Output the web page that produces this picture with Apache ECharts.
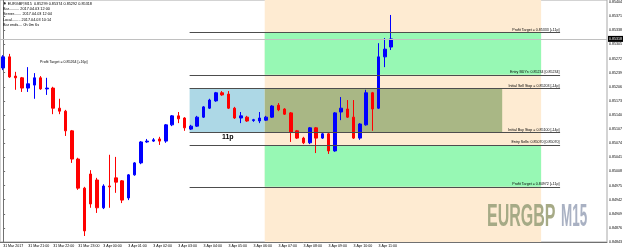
<!DOCTYPE html>
<html>
<head>
<meta charset="utf-8">
<script src="https://cdn.jsdelivr.net/npm/echarts@6/dist/echarts.min.js"></script>
<style>
  html, body { margin: 0; padding: 0; background: #fff; }
  #chart { width: 625px; height: 251px; }
</style>
</head>
<body>
<div id="chart"></div>
<script>
// EURGBP M15, 31 Mar 20:00 -> 3 Apr 11:30
const opens = [
  0.85250, 0.85276, 0.85231, 0.85227, 0.85203, 0.85210, 0.85227, 0.85201, 0.85203, 0.85156,
  0.85149, 0.85103, 0.85037, 0.84969, 0.85002, 0.84988, 0.84923, 0.84974, 0.84993, 0.84986,
  0.84946, 0.85000, 0.85028, 0.85077, 0.85079, 0.85084, 0.85079, 0.85117, 0.85138, 0.85133,
  0.85107, 0.85114, 0.85135, 0.85156, 0.85173, 0.85192, 0.85189, 0.85156, 0.85133, 0.85135,
  0.85127, 0.85126, 0.85128, 0.85135, 0.85163, 0.85154, 0.85145, 0.85103, 0.85086, 0.85075,
  0.85110, 0.85086, 0.85096, 0.85056, 0.85147, 0.85154, 0.85135, 0.85086, 0.85117, 0.85192,
  0.85156, 0.85276, 0.85299
]
const closes = [
  0.85276, 0.85229, 0.85227, 0.85203, 0.85213, 0.85227, 0.85201, 0.85203, 0.85156, 0.85149,
  0.85103, 0.85037, 0.84969, 0.84869, 0.84932, 0.84923, 0.84974, 0.84972, 0.84983, 0.84941,
  0.85000, 0.85028, 0.85077, 0.85079, 0.85082, 0.85079, 0.85117, 0.85138, 0.85131, 0.85110,
  0.85114, 0.85135, 0.85159, 0.85175, 0.85192, 0.85187, 0.85156, 0.85133, 0.85138, 0.85126,
  0.85129, 0.85133, 0.85135, 0.85161, 0.85152, 0.85142, 0.85100, 0.85086, 0.85075, 0.85110,
  0.85086, 0.85096, 0.85056, 0.85145, 0.85156, 0.85135, 0.85086, 0.85119, 0.85192, 0.85154,
  0.85276, 0.85294, 0.85318
]
const lows = [
  0.85245, 0.85227, 0.85199, 0.85194, 0.85194, 0.85178, 0.85199, 0.85187, 0.85142, 0.85142,
  0.85091, 0.85028, 0.84965, 0.84857, 0.84923, 0.84911, 0.84920, 0.84923, 0.84958, 0.84934,
  0.84941, 0.84998, 0.85025, 0.85075, 0.85077, 0.85070, 0.85075, 0.85114, 0.85121, 0.85103,
  0.85105, 0.85112, 0.85133, 0.85154, 0.85171, 0.85185, 0.85154, 0.85131, 0.85121, 0.85124,
  0.85124, 0.85121, 0.85126, 0.85133, 0.85149, 0.85140, 0.85077, 0.85084, 0.85072, 0.85072,
  0.85051, 0.85084, 0.85049, 0.85054, 0.85128, 0.85133, 0.85084, 0.85082, 0.85115, 0.85103,
  0.85154, 0.85252, 0.85292
]
const highs = [
  0.85280, 0.85283, 0.85241, 0.85229, 0.85252, 0.85238, 0.85231, 0.85227, 0.85206, 0.85178,
  0.85152, 0.85105, 0.85040, 0.84972, 0.85011, 0.84993, 0.84978, 0.85047, 0.85042, 0.84988,
  0.85002, 0.85030, 0.85079, 0.85084, 0.85086, 0.85089, 0.85119, 0.85140, 0.85147, 0.85135,
  0.85117, 0.85138, 0.85161, 0.85178, 0.85194, 0.85196, 0.85196, 0.85159, 0.85147, 0.85138,
  0.85131, 0.85147, 0.85138, 0.85163, 0.85168, 0.85156, 0.85147, 0.85105, 0.85089, 0.85112,
  0.85112, 0.85098, 0.85098, 0.85147, 0.85182, 0.85175, 0.85175, 0.85121, 0.85199, 0.85194,
  0.85308, 0.85320, 0.85374
]

// trade levels (price)
const levelPrices = [0.85333, 0.85234, 0.85203, 0.85100, 0.85070, 0.84972]
const levelNames = ['Profit Target = ', 'Entry BUYs: ', 'Initial Sell Stop = ', 'Initial Buy Stop = ', 'Entry Sells: ', 'Profit Target = ']
const levelNotes = ['[+11p]', '', '[-14p]', '[-14p]', '', '[+11p]']
const oldTarget = 0.85264
const oldTargetNote = '[+16p]'
const rangeNote = '11p'

// bar positions of the boxes (in bar slots)
const boxStart = 29.8
const zoneStart = 41.8
const oliveEnd = 79.75
const zoneEnd = 85.97
const lineEnd = 89.0

const slotCount = 97
const yMin = 0.84843
const yMax = 0.85409
const yStep = 0.00033

// time labels: Friday 31 Mar from 20:00, Monday 3 Apr from 00:00
const times = []
for (let i = 0; i < slotCount; i++) {
  if (i >= opens.length) { times.push(''); continue }
  let day, h, m = (i % 4) * 15
  if (i < 16) { day = '31 Mar'; h = 20 + Math.floor(i / 4) } else { day = '3 Apr'; h = Math.floor((i - 16) / 4) }
  times.push(day + ' ' + String(h).padStart(2, '0') + ':' + String(m).padStart(2, '0'))
}
times[0] = '31 Mar 2017'

const candles = opens.map((o, i) => [o, closes[i], lows[i], highs[i]])
const showHour = (i) => i % 4 === 0 && i < opens.length
const last = opens.length - 1

const zoneData = [
  [{ coord: [zoneStart, yMin], itemStyle: { color: '#feebd2' } }, { coord: [zoneEnd, yMax] }],
  [{ coord: [zoneStart, levelPrices[1]], itemStyle: { color: '#97f8b4' } }, { coord: [zoneEnd, levelPrices[0]] }],
  [{ coord: [zoneStart, levelPrices[5]], itemStyle: { color: '#97f8b4' } }, { coord: [zoneEnd, levelPrices[4]] }],
  [{ coord: [boxStart, levelPrices[3]], itemStyle: { color: '#add8e6' } }, { coord: [zoneStart, levelPrices[2]] }],
  [{ coord: [zoneStart, levelPrices[3]], itemStyle: { color: '#a9b785' } }, { coord: [oliveEnd, levelPrices[2]] }]
]

const levelLines = levelPrices.map((p, k) => {
  const v = p.toFixed(5)
  const note = levelNotes[k] || '[' + v + ']'
  return [{ coord: [boxStart, p], name: levelNames[k] + v + ' ' + note }, { coord: [lineEnd, p] }]
})

const infoLines = [
  '\u25BC EURGBP,M15  ' + [opens[last], highs[last], lows[last], closes[last]].map(v => v.toFixed(5)).join(' '),
  'Bar.......... 2017.04.03 12:00',
  'Server....... 2017.04.03 12:04',
  'Local........ 2017.04.03 10:14',
  'Bar ends.... 0h 0m 6s'
]

const chart = echarts.init(document.getElementById('chart'))
chart.setOption({
  animation: false,
  textStyle: { fontFamily: 'Liberation Sans' },
  grid: { left: 0, right: 17, top: 0, bottom: 9, show: true, borderColor: '#a8a8a8', borderWidth: 1 },
  xAxis: [
    {
      type: 'category',
      data: times,
      boundaryGap: true,
      axisLine: { lineStyle: { color: '#707070' } },
      axisTick: { interval: (i) => showHour(i), alignWithLabel: true, length: 2, lineStyle: { color: '#707070' } },
      axisLabel: { interval: (i) => showHour(i), fontSize: 3.6, color: '#000', align: 'left', margin: 2 },
      splitLine: { show: false }
    },
    { type: 'value', min: -0.5, max: slotCount - 0.5, show: false }
  ],
  yAxis: {
    type: 'value',
    position: 'right',
    min: yMin,
    max: yMax,
    interval: yStep,
    axisLine: { show: true, lineStyle: { color: '#707070' } },
    axisTick: { show: true, length: 2, lineStyle: { color: '#707070' } },
    axisLabel: { fontSize: 3.6, color: '#000', margin: 2, showMaxLabel: false, formatter: (v) => v.toFixed(5) },
    splitLine: { show: false }
  },
  graphic: [
    ...infoLines.map((t, k) => ({
      type: 'text', x: 3, y: 2 + k * 5.2, z: 100,
      style: { text: t, fontSize: 3.8, fill: '#000', fontFamily: 'Liberation Sans' }
    })),
    {
      type: 'text', x: 487, y: 201, scaleX: 0.5, z: 100,
      style: { text: 'EURGBP', fontSize: 32, fontWeight: 'bold', fill: '#a6aa86', fontFamily: 'Liberation Sans' }
    },
    {
      type: 'text', x: 561, y: 201, scaleX: 0.42, z: 100,
      style: { text: 'M15', fontSize: 32, fontWeight: 'bold', fill: '#a9b1c3', fontFamily: 'Liberation Sans' }
    }
  ],
  series: [
    {
      name: 'zones', type: 'line', xAxisIndex: 1, data: [], z: 1, silent: true,
      markArea: { silent: true, data: zoneData }
    },
    {
      name: 'levels', type: 'line', xAxisIndex: 1, data: [], z: 3, silent: true,
      markLine: {
        silent: true,
        symbol: ['none', 'none'],
        lineStyle: { color: '#4d4d4d', width: 1, type: 'solid' },
        label: { show: true, position: 'insideEndTop', formatter: (p) => p.name, fontSize: 3.6, color: '#000', distance: 0.5 },
        data: levelLines.concat([[
          {
            coord: [-0.5, closes[last]], name: closes[last].toFixed(5),
            lineStyle: { color: '#c0c0c0' },
            label: {
              position: 'end', distance: 1, color: '#fff', backgroundColor: '#000', padding: [1, 1]
            }
          },
          { coord: [slotCount - 0.5, closes[last]] }
        ]])
      },
      markPoint: {
        silent: true,
        symbol: 'circle',
        symbolSize: 0,
        data: [
          {
            coord: [9.7, oldTarget], name: 'Profit Target = ' + oldTarget.toFixed(5) + ' ' + oldTargetNote,
            label: { show: true, position: 'inside', formatter: (p) => p.name, fontSize: 3.6, color: '#000' }
          },
          {
            coord: [35.9, 0.85089], name: rangeNote,
            label: { show: true, position: 'inside', formatter: (p) => p.name, fontSize: 7, fontWeight: 'bold', color: '#000' }
          }
        ]
      }
    },
    {
      name: 'EURGBP', type: 'candlestick', xAxisIndex: 0, z: 4,
      barWidth: 3,
      data: candles,
      itemStyle: { color: '#0000ff', color0: '#ff0000', borderColor: '#0000ff', borderColor0: '#ff0000', borderWidth: 1 }
    }
  ]
})
</script>
</body>
</html>
